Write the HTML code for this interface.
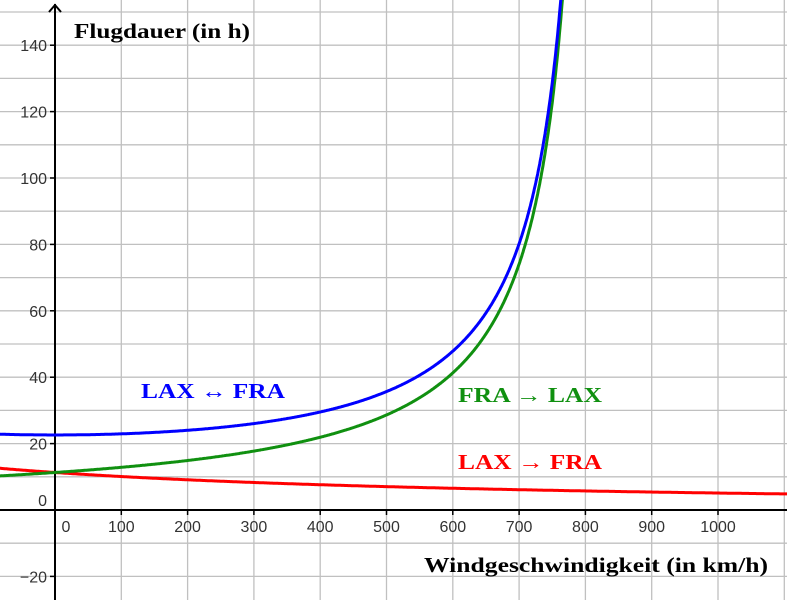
<!DOCTYPE html>
<html><head><meta charset="utf-8"><style>
body{margin:0;background:#fff}
svg{display:block}
.t{font-family:"Liberation Sans",sans-serif;font-size:16px;fill:#333}
.s{font-family:"Liberation Serif",serif;font-weight:bold;font-size:21px}
</style></head><body>
<svg id="c" width="787" height="600" viewBox="0 0 787 600" xmlns="http://www.w3.org/2000/svg">
<g id="grid" stroke="#c0c0c0" stroke-width="1.3"></g>
<g stroke="#000" stroke-width="2" fill="none">
<line x1="55" y1="4" x2="55" y2="600"/>
<line x1="0" y1="510" x2="787" y2="510"/>
<path d="M49,12 L55,5 L61,12"/>
</g>
<g id="ticks" stroke="#000" stroke-width="1.5"></g>
<g id="labels"></g>
<path id="red" fill="none" stroke="#ff0000" stroke-width="3"/>
<path id="green" fill="none" stroke="#109010" stroke-width="3"/>
<path id="blue" fill="none" stroke="#0000ff" stroke-width="3"/>
<text x="74" y="38" class="s" fill="#000" textLength="176" lengthAdjust="spacingAndGlyphs">Flugdauer (in h)</text>
<text x="424" y="572" class="s" fill="#000" textLength="344" lengthAdjust="spacingAndGlyphs">Windgeschwindigkeit (in km/h)</text>
<text x="141" y="398" class="s" fill="#0000ff" textLength="144" lengthAdjust="spacingAndGlyphs">LAX ↔ FRA</text>
<text x="458" y="402" class="s" fill="#109010" textLength="144" lengthAdjust="spacingAndGlyphs">FRA → LAX</text>
<text x="458" y="469" class="s" fill="#ff0000" textLength="144" lengthAdjust="spacingAndGlyphs">LAX → FRA</text>
</svg>
<script>
var ns="http://www.w3.org/2000/svg",X0=55,Y0=510,sx=0.663,sy=3.32;
function px(w){return X0+w*sx}function py(h){return Y0-h*sy}
function el(p,n,a,t){var e=document.createElementNS(ns,n);for(var k in a)e.setAttribute(k,a[k]);if(t!==undefined)e.textContent=t;document.getElementById(p).appendChild(e);}
for(var w=-100;w<=1200;w+=100){var x=px(w);if(x>0&&x<787&&w!=0)el("grid","line",{x1:x,y1:0,x2:x,y2:600});}
for(var h=-30;h<=160;h+=10){var y=py(h);if(h!=0)el("grid","line",{x1:0,y1:y,x2:787,y2:y});}
for(var h=-20;h<=140;h+=20){if(h==0)continue;var y=py(h);el("ticks","line",{x1:50,y1:y,x2:55,y2:y});el("labels","text",{x:47,y:y+6,"text-anchor":"end",class:"t"},h==-20?"−20":String(h));}
el("labels","text",{x:47,y:506,"text-anchor":"end",class:"t"},"0");
el("labels","text",{x:66,y:532,"text-anchor":"middle",class:"t"},"0");
for(var w=100;w<=1000;w+=100){var x=px(w);el("ticks","line",{x1:x,y1:510,x2:x,y2:515});el("labels","text",{x:x,y:532,"text-anchor":"middle",class:"t"},String(w));}
var v=826,d=11.3*826;
function path(f,wmax){var s="";for(var w=-85;w<=wmax;w+=1){var h=f(w);var y=py(h);if(y<-5){s+="L"+px(w).toFixed(1)+",-5";break;}s+=(s?"L":"M")+px(w).toFixed(1)+","+y.toFixed(1);}return s;}
document.getElementById("red").setAttribute("d",path(function(w){return d/(v+w)},1150));
document.getElementById("green").setAttribute("d",path(function(w){return d/(v-w)},v-1));
document.getElementById("blue").setAttribute("d",path(function(w){return d/(v+w)+d/(v-w)},v-1));
</script>
</body></html>
